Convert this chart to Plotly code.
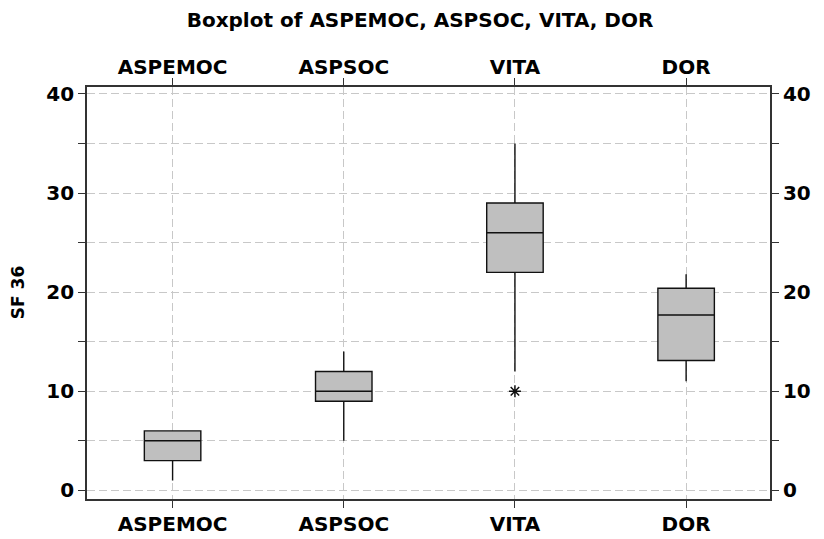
import plotly.graph_objects as go

categories = ["ASPEMOC", "ASPSOC", "VITA", "DOR"]
q1 = [3, 9, 22, 13.1]
median = [5, 10, 26, 17.7]
q3 = [6, 12, 29, 20.4]
lower = [1, 5, 12, 11]
upper = [6, 14, 35, 21.8]
outlier_cat = ["VITA"]
outlier_val = [10]

tick_vals = [0, 5, 10, 15, 20, 25, 30, 35, 40]
tick_text = ["0", "", "10", "", "20", "", "30", "", "40"]

FONT = "DejaVu Sans, sans-serif"
pos = list(range(len(categories)))

# page body has an 8px margin: size the figure so it fits the 824x539 window
W, H = 816, 531

fig = go.Figure()
for i, c in enumerate(categories):
    fig.add_trace(go.Box(
        x=[pos[i]], q1=[q1[i]], median=[median[i]], q3=[q3[i]],
        lowerfence=[lower[i]], upperfence=[upper[i]],
        width=0.33, whiskerwidth=0,
        fillcolor="#bfbfbf", line=dict(color="#111111", width=1.4),
        boxpoints=False, showlegend=False, hoverinfo="skip", name=c,
    ))

fig.add_trace(go.Scatter(
    x=[pos[categories.index(c)] for c in outlier_cat], y=outlier_val,
    mode="markers", marker=dict(symbol="asterisk-open", size=10, color="#111111",
                                line=dict(color="#111111", width=1.5)),
    showlegend=False, hoverinfo="skip",
))
# invisible trace to anchor secondary axes
fig.add_trace(go.Scatter(x=[0], y=[0], xaxis="x2", yaxis="y2",
                         mode="markers", marker=dict(opacity=0),
                         showlegend=False, hoverinfo="skip"))

xr = [-0.5, 3.49]
yr = [-0.87, 40.7]
axfont = dict(family=FONT, size=20, color="black", weight="bold")
common = dict(ticks="outside", ticklen=7, tickcolor="#333", tickwidth=1.3,
              showline=True, linecolor="#333", linewidth=1.8,
              zeroline=False, automargin=False)

fig.update_layout(
    width=W, height=H,
    margin=dict(l=79, r=54, t=79, b=40),
    paper_bgcolor="white", plot_bgcolor="white",
    title=dict(text="Boxplot of ASPEMOC, ASPSOC, VITA, DOR",
               font=dict(family=FONT, size=20, color="black", weight="bold"),
               x=412 / W, xanchor="center", xref="container",
               y=1 - 12 / H, yanchor="middle"),
    xaxis=dict(range=xr, tickvals=pos, ticktext=categories, tickfont=axfont,
               showgrid=True, gridcolor="#c8c8c8", griddash="8px,4px",
               gridwidth=1.2, ticklabelstandoff=-1, **common),
    xaxis2=dict(range=xr, tickvals=pos, ticktext=categories, tickfont=axfont,
                overlaying="x", side="top", showgrid=False,
                ticklabelstandoff=-4, **common),
    yaxis=dict(range=yr, tickvals=tick_vals, ticktext=tick_text,
               tickfont=axfont, showgrid=True, gridcolor="#c8c8c8",
               griddash="8px,4px", gridwidth=1.2, **common),
    yaxis2=dict(range=yr, tickvals=tick_vals, ticktext=tick_text,
                tickfont=axfont, overlaying="y", side="right",
                showgrid=False, **common),
    annotations=[dict(text="SF 36", textangle=-90, xref="paper", yref="paper",
                      x=(10.5 - 79.3) / 683, y=0.5, xanchor="center",
                      yanchor="middle", showarrow=False,
                      font=dict(family=FONT, size=17, color="black",
                                weight="bold"))],
)

fig.write_html("out.html")
